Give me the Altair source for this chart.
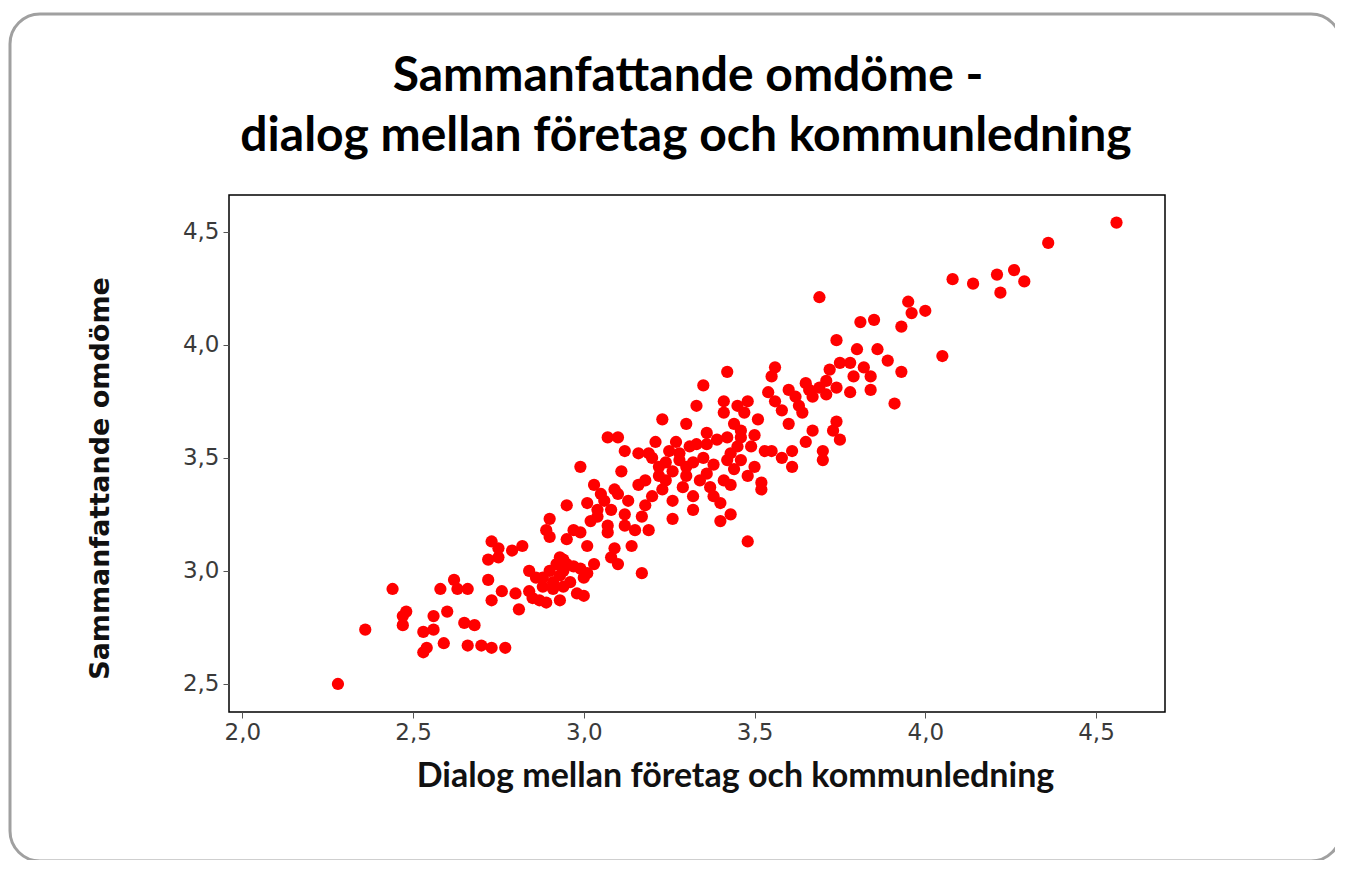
import altair as alt
import pandas as pd

# Dialog mellan företag och kommunledning (x) / Sammanfattande omdöme (y)
dialog = [
    2.28, 2.36, 2.44, 2.47, 2.48, 2.47, 2.53, 2.56, 2.54, 2.53, 2.59, 2.58, 2.56, 2.60,
    2.62, 2.63, 2.66, 2.65, 2.68, 2.66, 2.70, 2.73, 2.77, 2.72, 2.73, 2.76, 2.80, 2.81,
    2.84, 2.87, 2.72, 2.73, 2.75, 2.75, 2.79, 2.82, 2.89,
    3.07, 3.10, 3.12, 3.16, 2.99, 3.11, 3.16, 3.03, 3.05, 3.10, 3.13, 3.01, 2.95, 3.08,
    3.04, 3.02, 2.90, 2.90, 2.97, 2.95, 2.99, 3.07, 3.12, 3.15, 3.14, 3.09, 3.01, 2.93,
    2.92, 2.95, 2.90, 2.94, 2.99, 3.03, 3.00, 3.08, 3.10, 3.17, 2.88, 2.88, 2.91, 2.94,
    2.98, 3.00, 2.93, 2.89,
    3.42, 3.56, 3.55, 3.35, 3.33, 3.23, 3.30, 3.41, 3.41, 3.45, 3.48, 3.51, 3.54, 3.56,
    3.58, 3.60, 3.60, 3.61, 3.61, 3.53, 3.55, 3.58, 3.42, 3.46, 3.50, 3.45, 3.49, 3.36,
    3.36, 3.42, 3.46, 3.50, 3.44, 3.48, 3.52, 3.52, 3.41, 3.43, 3.40, 3.43, 3.40, 3.48,
    3.32, 3.26, 3.19, 3.17,
    3.19, 3.25, 3.31, 3.22, 3.28, 3.35, 3.18, 3.24, 3.30, 3.36, 3.20, 3.26, 3.32, 3.37,
    3.38, 3.21, 3.27, 3.33, 3.23, 3.29, 3.34, 3.18, 3.32, 3.38, 3.70,
    3.69, 3.81, 3.85, 3.74, 3.80, 3.86, 3.89, 3.72, 3.75, 3.78, 3.82, 3.79, 3.84, 3.65,
    3.69, 3.74, 3.78, 3.84, 3.67, 3.71, 3.91, 3.64, 3.67, 3.74, 3.73, 3.75, 3.65, 3.70,
    4.56, 4.36, 4.26, 4.21, 4.29, 4.22, 4.08, 4.14, 3.95, 3.96, 4.00, 3.93, 4.05, 3.93,
    3.20, 3.24, 3.28, 3.30, 3.22, 3.26, 2.93, 2.96, 2.97, 3.01, 2.91, 2.94, 3.04, 3.07,
    3.12, 3.06, 3.09, 3.44, 3.47, 3.43, 3.39, 3.46, 3.62, 3.66, 3.71, 3.63, 2.85, 2.86,
    2.84,
]
omdome = [
    2.50, 2.74, 2.92, 2.80, 2.82, 2.76, 2.73, 2.74, 2.66, 2.64, 2.68, 2.92, 2.80, 2.82,
    2.96, 2.92, 2.92, 2.77, 2.76, 2.67, 2.67, 2.66, 2.66, 2.96, 2.87, 2.91, 2.90, 2.83,
    2.91, 2.87, 3.05, 3.13, 3.06, 3.10, 3.09, 3.11, 3.18,
    3.59, 3.59, 3.53, 3.52, 3.46, 3.44, 3.38, 3.38, 3.34, 3.34, 3.31, 3.30, 3.29, 3.27,
    3.24, 3.22, 3.23, 3.15, 3.18, 3.14, 3.17, 3.17, 3.20, 3.18, 3.11, 3.10, 3.11, 3.06,
    3.03, 3.03, 3.00, 3.00, 3.01, 3.03, 2.97, 3.06, 3.03, 2.99, 2.97, 2.93, 2.92, 2.93,
    2.90, 2.89, 2.87, 2.86,
    3.88, 3.90, 3.86, 3.82, 3.73, 3.67, 3.65, 3.75, 3.70, 3.73, 3.75, 3.67, 3.79, 3.75,
    3.71, 3.80, 3.65, 3.46, 3.53, 3.53, 3.53, 3.50, 3.59, 3.59, 3.60, 3.55, 3.55, 3.61,
    3.56, 3.49, 3.49, 3.46, 3.45, 3.42, 3.39, 3.36, 3.40, 3.38, 3.30, 3.25, 3.22, 3.13,
    3.27, 3.23, 3.18, 3.24,
    3.52, 3.53, 3.55, 3.46, 3.49, 3.50, 3.40, 3.40, 3.42, 3.43, 3.33, 3.31, 3.33, 3.37,
    3.33, 3.57, 3.57, 3.56, 3.36, 3.37, 3.40, 3.29, 3.48, 3.47, 3.49,
    4.21, 4.10, 4.11, 4.02, 3.98, 3.98, 3.93, 3.89, 3.92, 3.92, 3.90, 3.86, 3.86, 3.83,
    3.81, 3.81, 3.79, 3.80, 3.77, 3.78, 3.74, 3.70, 3.62, 3.66, 3.62, 3.58, 3.57, 3.53,
    4.54, 4.45, 4.33, 4.31, 4.28, 4.23, 4.29, 4.27, 4.19, 4.14, 4.15, 4.08, 3.95, 3.88,
    3.50, 3.48, 3.52, 3.46, 3.42, 3.44, 2.98, 2.95, 3.02, 2.99, 2.95, 3.05, 3.27, 3.20,
    3.25, 3.31, 3.36, 3.65, 3.70, 3.52, 3.58, 3.62, 3.77, 3.80, 3.84, 3.73, 2.88, 2.97,
    3.00,
]

x_ticks = [2.0, 2.5, 3.0, 3.5, 4.0, 4.5]
y_ticks = [2.5, 3.0, 3.5, 4.0, 4.5]
title_line1 = "Sammanfattande omdöme -"
title_line2 = "dialog mellan företag och kommunledning"
x_title = "Dialog mellan företag och kommunledning"
y_title = "Sammanfattande omdöme"

df = pd.DataFrame({"dialog": dialog, "omdome": omdome})

label_expr = "replace(format(datum.value, '.1f'), '.', ',')"

points = alt.Chart(df).mark_point(
    shape="circle", filled=True, size=150, color="#ff0000", opacity=1
).encode(
    x=alt.X(
        "dialog:Q",
        scale=alt.Scale(domain=[1.961, 4.702], nice=False, zero=False),
        axis=alt.Axis(
            values=x_ticks, labelExpr=label_expr, title=x_title, grid=False,
            domain=False, tickSize=6, tickColor="#555", labelFont="DejaVu Sans",
            labelFontSize=23, labelColor="#3a3a3a", labelPadding=3,
            titleFont="Lato", titleFontSize=34, titleFontWeight="bold",
            titleColor="#111", titleX=506, titleY=64, titleAlign="center",
            titleBaseline="middle",
        ),
    ),
    y=alt.Y(
        "omdome:Q",
        scale=alt.Scale(domain=[2.376, 4.662], nice=False, zero=False),
        axis=alt.Axis(
            values=y_ticks, labelExpr=label_expr, title=y_title, grid=False,
            domain=False, tickSize=6, tickColor="#555", labelFont="DejaVu Sans",
            labelFontSize=23, labelColor="#3a3a3a", labelPadding=4,
            titleFont="DejaVu Sans", titleFontSize=27, titleFontWeight="bold",
            titleColor="#111", titleX=-129, titleY=283, titleAlign="center",
            titleBaseline="middle", titleAngle=270,
        ),
    ),
)

frame = alt.Chart(pd.DataFrame({"k": [0]})).mark_rect(
    fill=None, stroke="#a0a0a0", strokeWidth=3, cornerRadius=30
).encode(
    x=alt.value(-219), x2=alt.value(1112), y=alt.value(-181), y2=alt.value(666)
)

t1 = alt.Chart(pd.DataFrame({"t": [title_line1]})).mark_text(
    font="Lato", fontSize=48, fontWeight="bold", color="#000",
    align="center", baseline="alphabetic",
).encode(text="t:N", x=alt.value(459), y=alt.value(-104))

t2 = alt.Chart(pd.DataFrame({"t": [title_line2]})).mark_text(
    font="Lato", fontSize=48, fontWeight="bold", color="#000",
    align="center", baseline="alphabetic",
).encode(text="t:N", x=alt.value(457), y=alt.value(-44))

chart = alt.layer(frame, t1, t2, points).properties(
    width=936,
    height=517,
    autosize=alt.AutoSizeParams(type="none"),
    padding={"left": 221, "top": 187, "right": 170, "bottom": 148},
).configure_view(stroke="#000", strokeWidth=1.5)

chart.save("out.html", embed_options={"renderer": "svg", "actions": False})
